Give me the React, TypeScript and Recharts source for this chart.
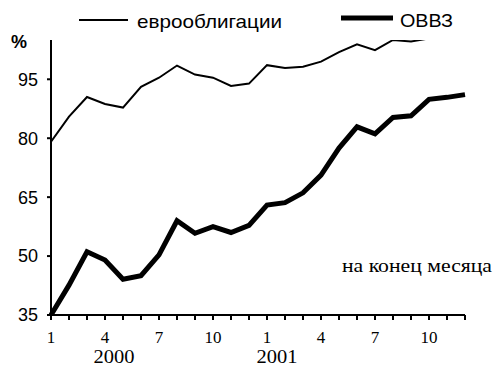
import React from "react";
import { LineChart, Line, XAxis, YAxis } from "recharts";

const MONTHS = [1, 2, 3, 4, 5, 6, 7, 8, 9, 10, 11, 12, 1, 2, 3, 4, 5, 6, 7, 8, 9, 10, 11, 12];
const YEARS = ["2000", "2001"];
const EURO = [79.1, 85.5, 90.5, 88.7, 87.8, 93.1, 95.4, 98.5, 96.2, 95.4, 93.3, 93.9,
  98.6, 97.9, 98.2, 99.5, 101.9, 103.9, 102.4, 105.0, 104.6, 105.4, 106.5, 107.2];
const OVVZ = [35.0, 42.6, 51.1, 49.0, 44.1, 45.0, 50.3, 59.0, 55.8, 57.5, 56.0, 57.8,
  63.0, 63.6, 66.1, 70.6, 77.5, 82.9, 81.1, 85.3, 85.7, 89.9, 90.4, 91.1];
const Y_TICKS = [35, 50, 65, 80, 95];

const data = MONTHS.map((m, i) => ({ idx: i, month: m, euro: EURO[i], ovvz: OVVZ[i] }));

const SERIF = "'Liberation Serif', 'Times New Roman', serif";
const SANS = "'Liberation Sans', Arial, sans-serif";

function MonthTick(props: any) {
  const { x, y, payload } = props;
  const i = payload.value as number;
  const m = MONTHS[i];
  const showMonth = (m - 1) % 3 === 0;
  let year: string | null = null;
  let yearDx = 0;
  if (i === 3) { year = YEARS[0]; yearDx = 9; }
  if (i === 12) { year = YEARS[1]; yearDx = 10; }
  return (
    <g>
      {showMonth && (
        <text x={x} y={y + 21} textAnchor="middle" fontFamily={SERIF} fontSize={17} fill="#000">
          {m}
        </text>
      )}
      {year && (
        <text x={x + yearDx} y={y + 41} textAnchor="middle" fontFamily={SERIF} fontSize={18} fill="#000"
          textLength={41} lengthAdjust="spacingAndGlyphs">
          {year}
        </text>
      )}
    </g>
  );
}

export default function App() {
  return (
    <div style={{ position: "absolute", left: 0, top: 0, width: 494, height: 367, background: "#fff" }}>
      <LineChart
        width={494}
        height={367}
        data={data}
        margin={{ top: 40, right: 29, bottom: 22, left: 0 }}
      >
        <XAxis
          dataKey="idx"
          type="category"
          interval={0}
          tickSize={5}
          height={30}
          axisLine={{ stroke: "#000", strokeWidth: 2 }}
          tickLine={{ stroke: "#000", strokeWidth: 2 }}
          tick={<MonthTick />}
        />
        <YAxis
          domain={[35, 105]}
          ticks={Y_TICKS}
          allowDataOverflow
          width={51}
          tickSize={4}
          tickMargin={9}
          axisLine={{ stroke: "#000", strokeWidth: 2 }}
          tickLine={{ stroke: "#000", strokeWidth: 2 }}
          tick={{ fill: "#000", fontFamily: SANS, fontSize: 18 }}
        />
        <Line type="linear" dataKey="euro" stroke="#000" strokeWidth={2} dot={false} isAnimationActive={false} />
        <Line type="linear" dataKey="ovvz" stroke="#000" strokeWidth={5} dot={false} isAnimationActive={false} />
      </LineChart>
      <svg width={494} height={367} style={{ position: "absolute", left: 0, top: 0, pointerEvents: "none" }}>
        <line x1={79} y1={20} x2={128} y2={20} stroke="#000" strokeWidth={2} />
        <text x={137} y={28} fontFamily={SANS} fontSize={19} fill="#000" textLength={145} lengthAdjust="spacingAndGlyphs">еврооблигации</text>
        <line x1={341} y1={18} x2={393} y2={18} stroke="#000" strokeWidth={5} />
        <text x={400} y={27} fontFamily={SANS} fontSize={19} fill="#000" textLength={53} lengthAdjust="spacingAndGlyphs">ОВВЗ</text>
        <text x={11} y={48} fontFamily={SANS} fontSize={18} fontWeight="bold" fill="#000">%</text>
        <text x={342} y={272} fontFamily={SERIF} fontSize={19} fill="#000" textLength={150} lengthAdjust="spacingAndGlyphs">на конец месяца</text>
      </svg>
    </div>
  );
}
